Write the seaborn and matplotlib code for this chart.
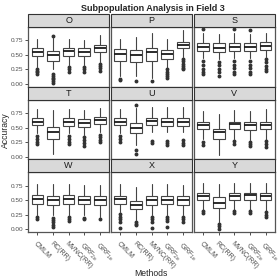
import numpy as np
import pandas as pd
import seaborn as sns
import matplotlib
matplotlib.use("Agg")
import matplotlib.pyplot as plt
from matplotlib.patches import Rectangle

# ------------------------------------------------------------
# Subpopulation analysis in field 3: box summaries
# ------------------------------------------------------------

FIELDS = ["O", "P", "S", "T", "U", "V", "W", "X", "Y"]
METHODS = ["CMLM", "RC(RR)", "MVNC(RR)", "GRF$_{2e}$", "GRF$_{1e}$"]

MEDIAN = [
    [0.55, 0.49, 0.56, 0.55, 0.62],
    [0.52, 0.50, 0.55, 0.52, 0.67],
    [0.63, 0.62, 0.63, 0.63, 0.66],
    [0.60, 0.43, 0.60, 0.58, 0.63],
    [0.60, 0.50, 0.61, 0.60, 0.60],
    [0.54, 0.43, 0.56, 0.54, 0.55],
    [0.52, 0.50, 0.52, 0.51, 0.50],
    [0.52, 0.42, 0.51, 0.51, 0.50],
    [0.58, 0.46, 0.58, 0.59, 0.58],
]
Q1 = [
    [0.48, 0.40, 0.48, 0.48, 0.55],
    [0.40, 0.38, 0.40, 0.43, 0.61],
    [0.56, 0.55, 0.56, 0.56, 0.59],
    [0.54, 0.31, 0.53, 0.51, 0.56],
    [0.54, 0.41, 0.54, 0.53, 0.53],
    [0.47, 0.30, 0.47, 0.46, 0.47],
    [0.43, 0.42, 0.44, 0.43, 0.42],
    [0.43, 0.35, 0.42, 0.43, 0.42],
    [0.50, 0.36, 0.50, 0.50, 0.50],
]
Q3 = [
    [0.61, 0.56, 0.62, 0.61, 0.675],
    [0.60, 0.58, 0.61, 0.59, 0.72],
    [0.70, 0.70, 0.70, 0.70, 0.72],
    [0.66, 0.51, 0.66, 0.64, 0.68],
    [0.66, 0.58, 0.66, 0.66, 0.66],
    [0.60, 0.48, 0.60, 0.59, 0.60],
    [0.59, 0.58, 0.59, 0.58, 0.58],
    [0.58, 0.48, 0.58, 0.58, 0.57],
    [0.63, 0.55, 0.63, 0.63, 0.62],
]
WHISK_LO = [
    [0.29, 0.26, 0.32, 0.32, 0.37],
    [0.14, 0.14, 0.11, 0.28, 0.46],
    [0.44, 0.43, 0.44, 0.44, 0.47],
    [0.40, 0.05, 0.40, 0.38, 0.42],
    [0.40, 0.20, 0.43, 0.42, 0.42],
    [0.30, 0.03, 0.30, 0.28, 0.28],
    [0.25, 0.24, 0.25, 0.24, 0.22],
    [0.30, 0.16, 0.24, 0.25, 0.24],
    [0.34, 0.12, 0.34, 0.34, 0.32],
]
WHISK_HI = [
    [0.78, 0.79, 0.78, 0.76, 0.84],
    [0.77, 0.80, 0.87, 0.78, 0.92],
    [0.87, 0.85, 0.87, 0.86, 0.87],
    [0.82, 0.80, 0.82, 0.80, 0.84],
    [0.82, 0.83, 0.85, 0.85, 0.85],
    [0.78, 0.74, 0.80, 0.78, 0.82],
    [0.78, 0.78, 0.78, 0.77, 0.77],
    [0.78, 0.73, 0.78, 0.78, 0.77],
    [0.80, 0.78, 0.80, 0.80, 0.79],
]
OUTLIERS = [
    [[0.26, 0.23, 0.20, 0.17], [0.82, 0.17, 0.14, 0.11, 0.08, 0.05, 0.02],
     [0.29, 0.25, 0.21], [0.29, 0.25, 0.20], [0.35, 0.31, 0.27, 0.23]],
    [[0.08, 0.06], [0.05], [0.05], [0.25, 0.21, 0.17, 0.14, 0.10],
     [0.43, 0.39, 0.35, 0.31, 0.27, 0.25]],
    [[0.94, 0.40, 0.33, 0.26, 0.20, 0.17], [0.38, 0.32, 0.26, 0.20, 0.14],
     [0.94, 0.39, 0.33, 0.27, 0.21, 0.17], [0.92, 0.39, 0.33, 0.27, 0.21, 0.17],
     [0.42, 0.37, 0.31, 0.26, 0.23]],
    [[0.36, 0.31, 0.26, 0.21], [], [0.36, 0.31, 0.26, 0.21],
     [0.34, 0.29, 0.24, 0.19], [0.38, 0.33, 0.28, 0.25]],
    [[0.35, 0.30, 0.26], [0.88, 0.12, 0.05], [0.27, 0.23],
     [0.27, 0.24, 0.20], [0.28, 0.24, 0.20]],
    [[0.25, 0.20], [], [0.27, 0.22], [0.26, 0.21, 0.18], [0.27, 0.22, 0.17]],
    [[0.21, 0.17], [0.20, 0.16, 0.12, 0.08, 0.04], [0.22, 0.18, 0.15],
     [0.20, 0.17], [0.18]],
    [[0.27, 0.22, 0.17, 0.12, 0.02], [0.13, 0.10, 0.07], [0.21, 0.17, 0.13, 0.03],
     [0.22, 0.18, 0.14, 0.04], [0.21, 0.17, 0.13]],
    [[0.31, 0.28], [0.09, 0.05, 0.01], [0.31, 0.28], [0.31, 0.28],
     [0.29, 0.25, 0.22]],
]

Y_TICKS = [0.0, 0.25, 0.50, 0.75]
Y_TICK_LABELS = ["0.00", "0.25", "0.50", "0.75"]

EDGE = "#333333"
STRIP_FILL = "#d9d9d9"


def draw_boxes(data, **kws):
    ax = plt.gca()
    data = data.sort_values("pos")
    stats = []
    for _, r in data.iterrows():
        stats.append({
            "med": r["med"], "q1": r["q1"], "q3": r["q3"],
            "whislo": r["wlo"], "whishi": r["whi"], "fliers": r["out"],
        })
    ax.bxp(
        stats,
        positions=data["pos"].tolist(),
        widths=0.75,
        showcaps=False,
        patch_artist=True,
        boxprops=dict(facecolor="white", edgecolor="#444444", linewidth=0.8),
        whiskerprops=dict(color="#444444", linewidth=0.8),
        medianprops=dict(color="#1a1a1a", linewidth=1.3),
        flierprops=dict(marker="o", markersize=1.8, markerfacecolor=EDGE,
                        markeredgecolor=EDGE, linestyle="none"),
        manage_ticks=False,
    )


def main():
    rows = []
    for i, f in enumerate(FIELDS):
        for j, m in enumerate(METHODS):
            rows.append({
                "field": f, "method": m, "pos": j,
                "med": MEDIAN[i][j], "q1": Q1[i][j], "q3": Q3[i][j],
                "wlo": WHISK_LO[i][j], "whi": WHISK_HI[i][j],
                "out": OUTLIERS[i][j],
            })
    df = pd.DataFrame(rows)

    sns.set_theme(style="white")
    plt.rcParams["font.family"] = ["Liberation Sans", "DejaVu Sans"]
    plt.rcParams["mathtext.default"] = "regular"

    g = sns.FacetGrid(df, col="field", col_wrap=3, col_order=FIELDS,
                      height=1.0, aspect=1.0, sharex=True, sharey=True,
                      despine=False)
    g.map_dataframe(draw_boxes)
    g.set_titles("")
    g.set_axis_labels("", "")

    fig = g.figure
    fig.set_size_inches(2.8, 2.8)
    panel_h = 59.0
    strip_h = 13.0
    fig.subplots_adjust(left=28 / 280, right=275 / 280,
                        top=1 - 27 / 280, bottom=1 - 232 / 280,
                        wspace=0.02, hspace=strip_h / panel_h)

    for k, ax in enumerate(g.axes.flat):
        row, col = divmod(k, 3)
        ax.set_xlim(-0.6, 4.6)
        ax.set_ylim(-0.045, 0.978)
        ax.set_facecolor("white")
        ax.grid(False)
        for sp in ax.spines.values():
            sp.set_color("#555555")
            sp.set_linewidth(0.9)

        sh = strip_h / panel_h
        ax.add_patch(Rectangle((0, 1), 1, sh, transform=ax.transAxes,
                               facecolor=STRIP_FILL, edgecolor=EDGE,
                               linewidth=0.8, clip_on=False, zorder=3))
        ax.text(0.5, 1 + sh / 2, FIELDS[k], transform=ax.transAxes,
                ha="center", va="center", fontsize=6.5, color="#1a1a1a",
                zorder=4)

        ax.set_yticks(Y_TICKS)
        ax.set_xticks(range(len(METHODS)))
        ax.tick_params(axis="both", length=2, width=0.6, color=EDGE,
                       labelsize=4.6, labelcolor="#4d4d4d", pad=1.2)
        if col == 0:
            ax.set_yticklabels(Y_TICK_LABELS)
            ax.tick_params(axis="y", left=True)
        else:
            ax.tick_params(axis="y", left=False, labelleft=False)
        if row == 2:
            ax.set_xticklabels(METHODS, rotation=-45, ha="left", va="top",
                               rotation_mode="anchor", fontsize=5.0)
            ax.tick_params(axis="x", bottom=True, pad=4)
        else:
            ax.tick_params(axis="x", bottom=False, labelbottom=False)

    fig.text(0.545, 0.968, "Subpopulation Analysis in Field 3",
             ha="center", va="center", fontsize=6.5, fontweight="bold")
    fig.text(0.02, 0.537, "Accuracy", rotation=90, ha="center",
             va="center", fontsize=6.2)
    fig.text(0.54, 0.025, "Methods", ha="center", va="center", fontsize=6.2)

    fig.savefig("out.png", dpi=100)
    plt.close(fig)


if __name__ == "__main__":
    main()
